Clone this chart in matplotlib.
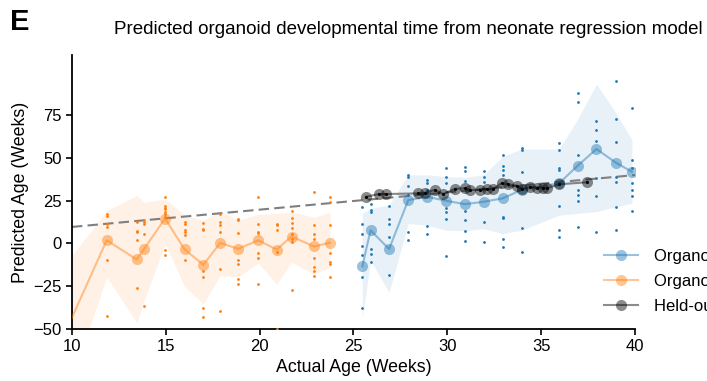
import matplotlib
matplotlib.use("Agg")
import matplotlib.pyplot as plt
import numpy as np

plt.rcParams['font.family'] = ['Liberation Sans', 'DejaVu Sans']

# ---------------- data ----------------
# Organoid (orange) group weeks, means, CI band
orange_weeks = [9.5, 11.85, 13.45, 13.85, 14.96, 16.0, 17.0, 17.9, 18.86, 19.93, 20.9, 21.7, 22.9, 23.75]
orange_mean = [-55.5, 1.8, -9.4, -3.1, 14.5, -3.5, -12.5, 0.3, -3.2, 1.8, -3.6, 4.0, -1.8, 0.4]
orange_hi = [-14, 19, 28, 24, 26, 16.5, 13.5, 19, 13.5, 17, 17.4, 18.4, 15.3, 18.4]
orange_lo = [-95, -19.8, -46.3, -33.5, -0.2, -25.3, -35.3, -18.8, -19.5, -11.5, -23.9, -11, -18, -14]
# individual orange samples (first group below the visible range)
orange_pts = [
    [],
    [16.9, 15.9, 11.6, 9.6, -9.6, -42.3],
    [12.2, 7.3, 6.7, 1.8, -26.0],
    [13.5, 12.6, 11.6, 5.7, -36.4],
    [26.9, 21.8, 20.8, 19.8, 18.4, 16.9, 15.5, -4.1, -7.0],
    [12.6, 11.2, 7.7, 6.7, 5.1, -9.6],
    [12.0, 8.6, 8.1, -15.9, -19.4, -37.8, -42.9],
    [17.1, 12.2, 10.6, 6.7, -14.9, -39.4],
    [14.1, 13.5, 6.3, -10.0, -12.3, -20.8, -23.7],
    [26.9, 11.6, 6.7, 6.1, -5.5, -8.6, -23.7],
    [11.6, 10.6, 7.7, -5.1, -49.8],
    [19.0, 15.1, 12.0, 9.2, 5.7, 2.4, 0.8, -27.0],
    [30.2, 10.6, 5.3, 2.8, -8.4, -13.9, -15.9, -18.8],
    [27.3, 24.3, 10.6, -5.7, -10.6, -12.0, -19.4],
]

# Organoid (blue) group weeks, means, CI band
blue_weeks = [25.47, 25.91, 26.9, 27.92, 28.93, 29.93, 30.94, 31.93, 32.95, 33.96, 35.96, 36.94, 37.95, 38.97, 39.84]
blue_mean = [-13.5, 7.6, -3.3, 25.3, 27.2, 24.9, 22.9, 24.3, 26.3, 31.2, 35.1, 45.3, 55.1, 47.2, 41.8]
blue_hi = [17.5, 20.4, 22.4, 40.0, 40.0, 39.0, 38.6, 40.0, 50.8, 55.1, 55.1, 72.4, 93.0, 76.3, 60.6]
blue_lo = [-44.3, -10.0, -28.6, 11.6, 10.6, 7.7, 7.3, 8.6, 5.7, 7.7, 16.5, 17.5, 18.5, 21.4, 23.4]
blue_pts = [
    [21.4, 11.6, 5.7, -1.7, -7.0, -19.8, -37.8],
    [23.0, 19.4, 18.5, -3.1, -6.0, -10.9],
    [21.8, 14.5, 11.6, 3.8, -18.2],
    [40.0, 39.0, 33.6, 28.3, 6.7, 2.2],
    [37.1, 35.5, 31.2, 29.3, 10.0, 5.3],
    [43.9, 38.6, 35.5, 20.4, 18.5, 14.2, -7.6],
    [44.5, 42.0, 36.7, 19.1, 13.6, 7.3, 1.4],
    [42.0, 39.0, 36.1, 12.6, 0.8],
    [51.8, 45.3, 43.0, 40.0, 15.5, 14.6, 2.8, -2.1],
    [55.7, 54.3, 41.4, 8.7, -5.0],
    [58.6, 54.3, 43.9, 43.0, 22.0, 7.7, 3.7],
    [88.0, 82.8, 51.8, 31.2, 28.3, 24.9, 9.6],
    [71.4, 66.5, 59.6, 38.1, 27.9, 6.7],
    [94.9, 72.8, 59.0, 38.6, 35.7, 21.0, 8.1],
    [79.2, 48.5, 43.9, 35.1, 31.2, 27.7, 19.1],
]

# Held-out neonates (black)
held_weeks = [25.66, 26.36, 26.73, 28.45, 28.81, 29.34, 29.78, 30.4, 30.94, 31.2, 31.74, 32.09,
              32.45, 32.89, 33.24, 33.69, 33.96, 34.4, 34.76, 35.11, 35.32, 35.96, 37.45]
held_pred = [27.2, 28.8, 28.8, 29.2, 29.6, 31.2, 28.8, 31.8, 32.2, 31.2, 31.2, 31.6,
             31.8, 35.1, 34.5, 33.7, 31.8, 33.1, 32.5, 32.5, 32.2, 34.5, 35.7]

# neonate regression line
reg_slope = 1.01
reg_intercept = -0.5

labels = ["Organoids (cortical, dataset 1)", "Organoids (cortical, dataset 2)", "Held-out neonates"]
blue = '#1f77b4'
orange = '#ff7f0e'

# ---------------- figure ----------------
fig = plt.figure(figsize=(7.07, 3.81), dpi=100)
ax = fig.add_axes([0.1018, 0.1365, 0.7963, 0.7191])

# bands
ax.fill_between(orange_weeks, orange_lo, orange_hi, color=orange, alpha=0.1, lw=0)
ax.fill_between(blue_weeks, blue_lo, blue_hi, color=blue, alpha=0.1, lw=0)

# regression dashed line
rx = np.array([10, 40])
ax.plot(rx, reg_intercept + reg_slope * rx, ls='--', color='#7f7f7f', lw=1.5, dashes=(5, 2.5), zorder=2)

# individual points
for w, pts in zip(orange_weeks, orange_pts):
    ax.scatter([w] * len(pts), pts, s=4, color=orange, lw=0, zorder=3)
for w, pts in zip(blue_weeks, blue_pts):
    ax.scatter([w] * len(pts), pts, s=4, color=blue, lw=0, zorder=3)

# mean lines
h1, = ax.plot(blue_weeks, blue_mean, '-o', color=blue, alpha=0.45, ms=8, lw=1.5, mew=0, zorder=4)
h2, = ax.plot(orange_weeks, orange_mean, '-o', color=orange, alpha=0.45, ms=8, lw=1.5, mew=0, zorder=4)
h3, = ax.plot(held_weeks, held_pred, '-o', color='black', alpha=0.45, ms=8, lw=1.5, mew=0, zorder=5)
ax.scatter(held_weeks, held_pred, s=5, color='black', lw=0, zorder=6)

ax.set_xlim(10, 40)
ax.set_ylim(-50, 110)
ax.set_xticks([10, 15, 20, 25, 30, 35, 40])
ax.set_yticks([-50, -25, 0, 25, 50, 75])
ax.tick_params(labelsize=12, length=4, width=1.2)
for s in ['top', 'right']:
    ax.spines[s].set_visible(False)
for s in ['left', 'bottom']:
    ax.spines[s].set_linewidth(1.3)

ax.set_xlabel("Actual Age (Weeks)", fontsize=12.8, labelpad=3)
ax.set_ylabel("Predicted Age (Weeks)", fontsize=12.8, labelpad=3)

leg = ax.legend([h1, h2, h3], labels, loc='lower left', bbox_to_anchor=(0.934, 0.03),
                frameon=False, fontsize=12, borderaxespad=0, handlelength=2.0,
                handletextpad=1.0, labelspacing=0.6)

fig.text(408 / 707, 1 - 30 / 381, "Predicted organoid developmental time from neonate regression model",
         ha='center', va='center', fontsize=13.5)
fig.text(10 / 707, 1 - 22 / 381, "E", ha='left', va='center', fontsize=21, fontweight='bold')

fig.savefig("out.png", dpi=100)
